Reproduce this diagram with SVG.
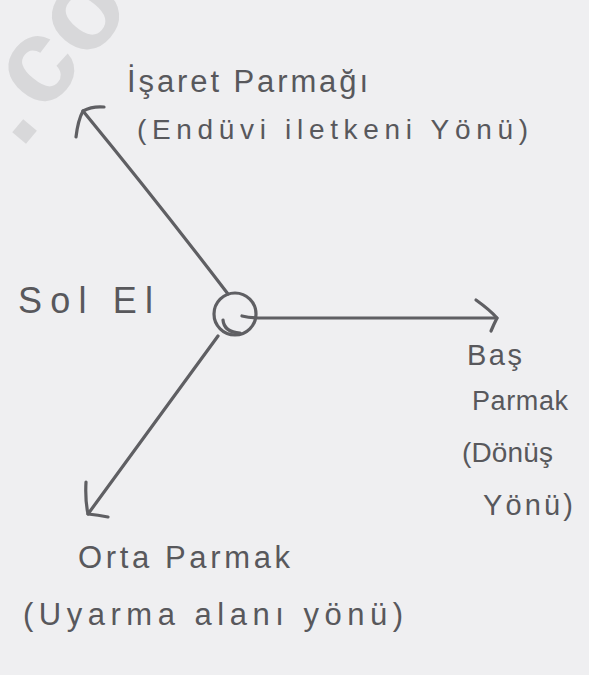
<svg xmlns="http://www.w3.org/2000/svg" width="589" height="675" viewBox="0 0 589 675">
<style>
.ink{fill:none;stroke:#5f5f63;stroke-width:3.2;stroke-linecap:round;stroke-linejoin:round}
.t{font-family:"Liberation Sans","DejaVu Sans",sans-serif;fill:#58585c}
.wm{font-family:"Liberation Sans",sans-serif;font-weight:bold;fill:#d8d8da}
</style>
<rect width="589" height="675" fill="#efeff1"/>
<text class="wm" font-size="120" transform="translate(21.8,141) rotate(-50)"><tspan dx="-7.5" dy="5">.</tspan><tspan dx="7.5" dy="-5">co</tspan></text>
<g id="connectors">
  <path class="ink" d="M228,294 Q160,205 83,111"/>
  <path class="ink" d="M76,137 Q78,120 83,111 Q92,106 104,107"/>
  <path class="ink" d="M242,316 Q250,318 262,318 L497,318"/>
  <path class="ink" d="M476,300 Q490,310 497,318 Q494,324 491,331"/>
  <path class="ink" d="M218,336 L88,514"/>
  <path class="ink" d="M86,482 Q85,500 88,514 Q98,515 108,517"/>
</g>
<g id="center">
  <circle class="ink" cx="235" cy="314" r="21"/>
  <path class="ink" d="M223,320 Q224,332 240,333"/>
</g>
<g id="isaret">
  <text class="t" x="127" y="92" font-size="31" textLength="241" lengthAdjust="spacing">İşaret Parmağı</text>
  <text class="t" x="137" y="139" font-size="28" textLength="391" lengthAdjust="spacing">(Endüvi iletkeni Yönü)</text>
</g>
<g id="solel">
  <text class="t" x="18" y="313" font-size="36" textLength="135" lengthAdjust="spacing">Sol El</text>
</g>
<g id="basparmak">
  <text class="t" x="467" y="365" font-size="29" textLength="55" lengthAdjust="spacing">Baş</text>
  <text class="t" x="472" y="410" font-size="27" textLength="96" lengthAdjust="spacing">Parmak</text>
  <text class="t" x="462" y="462" font-size="28" textLength="91" lengthAdjust="spacing">(Dönüş</text>
  <text class="t" x="483" y="515" font-size="29" textLength="90" lengthAdjust="spacing">Yönü)</text>
</g>
<g id="ortaparmak">
  <text class="t" x="78" y="568" font-size="31" textLength="212" lengthAdjust="spacing">Orta Parmak</text>
  <text class="t" x="23" y="625" font-size="31" textLength="380" lengthAdjust="spacing">(Uyarma alanı yönü)</text>
</g>
</svg>
